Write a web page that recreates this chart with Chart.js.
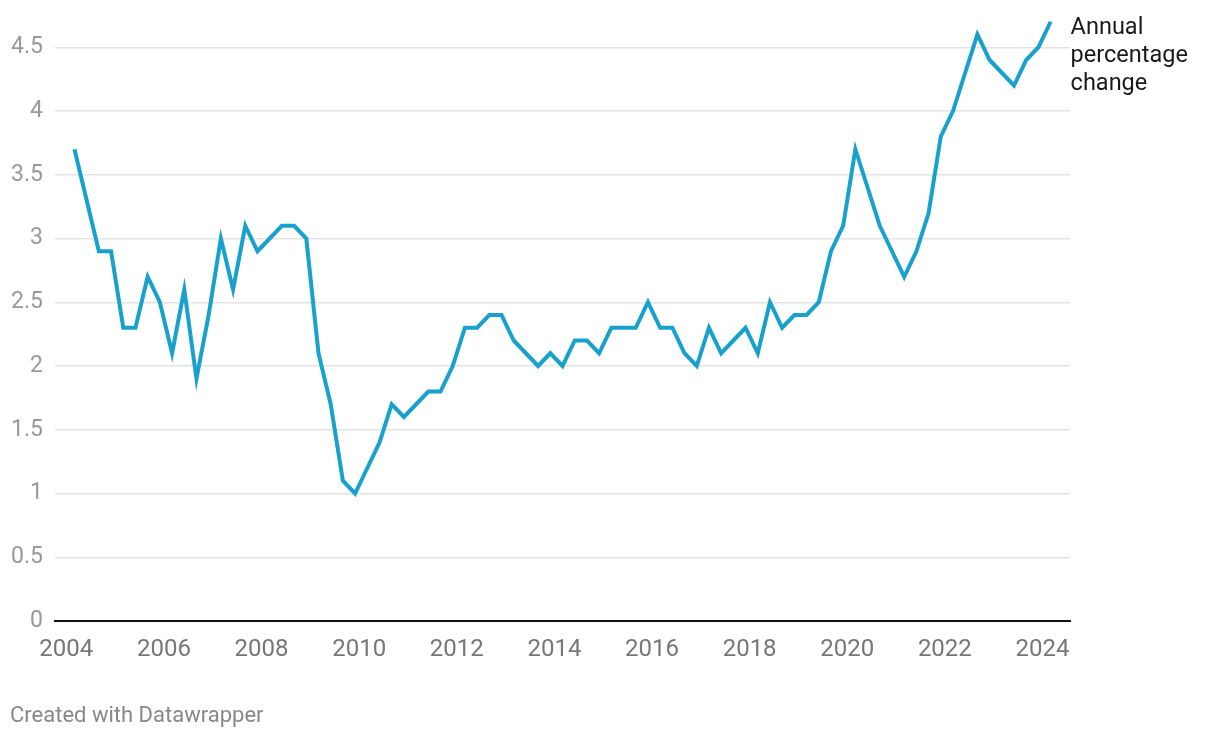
<!DOCTYPE html>
<html>
<head>
<meta charset="utf-8">
<script src="https://cdn.jsdelivr.net/npm/chart.js@4/dist/chart.umd.min.js"></script>
<style>
  html, body { margin: 0; padding: 0; background: #fff; }
  #wrap { position: relative; width: 1220px; height: 738px; }
  #footer { position: absolute; left: 10px; top: 702px; font-family: Roboto, sans-serif; font-size: 22px; color: #888; }
</style>
</head>
<body>
<div id="wrap">
  <canvas id="c" width="1220" height="738"></canvas>
  <div id="footer">Created with Datawrapper</div>
</div>
<script>
// Quarterly periods, 2004 Q1 .. 2024 Q1
const quarters = [];
for (let y = 2004; y <= 2024; y++) {
  for (let q = 1; q <= 4; q++) {
    if (y === 2024 && q > 1) break;
    quarters.push(y + ' Q' + q);
  }
}
const seriesName = ['Annual', 'percentage', 'change'];
const annualChange = [
  3.7, 3.3, 2.9, 2.9, 2.3, 2.3, 2.7, 2.5, 2.1, 2.6,
  1.9, 2.4, 3.0, 2.6, 3.1, 2.9, 3.0, 3.1, 3.1, 3.0,
  2.1, 1.7, 1.1, 1.0, 1.2, 1.4, 1.7, 1.6, 1.7, 1.8,
  1.8, 2.0, 2.3, 2.3, 2.4, 2.4, 2.2, 2.1, 2.0, 2.1,
  2.0, 2.2, 2.2, 2.1, 2.3, 2.3, 2.3, 2.5, 2.3, 2.3,
  2.1, 2.0, 2.3, 2.1, 2.2, 2.3, 2.1, 2.5, 2.3, 2.4,
  2.4, 2.5, 2.9, 3.1, 3.7, 3.4, 3.1, 2.9, 2.7, 2.9,
  3.2, 3.8, 4.0, 4.3, 4.6, 4.4, 4.3, 4.2, 4.4, 4.5,
  4.7
];
const xTicks = [2004, 2006, 2008, 2010, 2012, 2014, 2016, 2018, 2020, 2022, 2024];
const yTicks = [0, 0.5, 1, 1.5, 2, 2.5, 3, 3.5, 4, 4.5];

// each quarter is dated at the start of its last month (Mar, Jun, Sep, Dec)
const points = quarters.map((lab, i) => {
  const [y, q] = lab.split(' Q');
  return { x: Number(y) + (Number(q) * 3 - 1) / 12, y: annualChange[i] };
});

const labelPlugin = {
  id: 'endLabel',
  afterDatasetsDraw(chart) {
    const ctx = chart.ctx;
    const meta = chart.getDatasetMeta(0);
    const last = meta.data[meta.data.length - 1];
    ctx.save();
    ctx.font = '23.5px Roboto';
    ctx.fillStyle = '#1a1a1a';
    ctx.textAlign = 'left';
    ctx.textBaseline = 'middle';
    seriesName.forEach((t, i) => ctx.fillText(t, last.x + 20, last.y + 6 + i * 28));
    ctx.restore();
  }
};

new Chart(document.getElementById('c'), {
  type: 'line',
  data: {
    datasets: [{
      label: seriesName.join(' '),
      data: points,
      borderColor: '#18a1cd',
      borderWidth: 4,
      pointRadius: 0,
      tension: 0,
      fill: false,
      clip: false,
      borderJoinStyle: 'miter'
    }]
  },
  options: {
    responsive: false,
    animation: false,
    layout: { padding: { top: 9, right: 150, bottom: 77, left: 0 } },
    plugins: { legend: { display: false }, tooltip: { enabled: false } },
    scales: {
      x: {
        type: 'linear',
        min: 2003.768,
        max: 2024.564,
        afterBuildTicks: s => { s.ticks = xTicks.map(v => ({ value: v })); },
        afterFit: s => { s.height = 40; s.paddingLeft = 0; s.paddingRight = 0; },
        grid: { display: false, drawTicks: false },
        border: { display: true, color: '#111', width: 2 },
        ticks: {
          color: '#777',
          font: { family: 'Roboto', size: 24 },
          padding: 15,
          maxRotation: 0,
          autoSkip: false,
          callback: v => String(v)
        }
      },
      y: {
        min: 0,
        max: 4.8,
        afterBuildTicks: s => { s.ticks = yTicks.map(v => ({ value: v })); },
        afterFit: s => { s.width = 55; s.paddingTop = 0; s.paddingBottom = 0; },
        grid: { color: '#e3e3e3', lineWidth: 1.5, drawTicks: false },
        border: { display: false },
        ticks: {
          color: '#999',
          font: { family: 'Roboto', size: 23 },
          padding: 12,
          callback: v => String(v)
        }
      }
    }
  },
  plugins: [labelPlugin]
});
</script>
</body>
</html>
